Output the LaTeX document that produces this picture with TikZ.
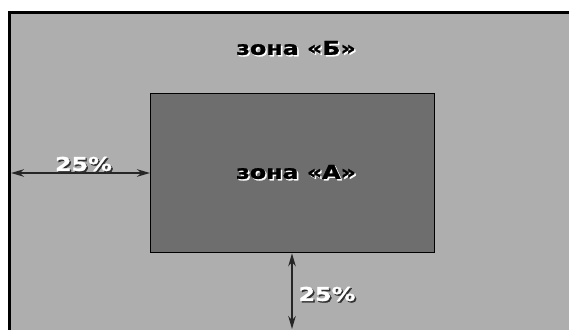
\documentclass[tikz,border=0pt]{standalone}
\usepackage{fontspec}
\usepackage{graphicx}
\setmainfont{DejaVu Sans}
\newfontfamily\heavyfont{DejaVu Sans Bold}[FakeBold=1.2]
\usetikzlibrary{arrows.meta}
\definecolor{zoneB}{HTML}{AEAEAE}
\definecolor{zoneA}{HTML}{6E6E6E}
\definecolor{shadowdark}{HTML}{303030}
\newcommand{\widetxt}[1]{\scalebox{1.25}[1]{#1}}
\tikzset{
  px/.style={x=1pt,y=-1pt},
  zonebox/.style={draw=black, line width=#1},
  lbl/.style={font=\heavyfont\fontsize{19}{19}\selectfont, inner sep=0pt},
  dimarrow/.style={line width=1.8pt, draw=black!85, {Stealth[length=13pt,width=7.5pt]}-{Stealth[length=13pt,width=7.5pt]}},
}
\begin{document}
\begin{tikzpicture}[px]
\useasboundingbox (0,0) rectangle (569,329);
\fill[white] (0,0) rectangle (569,329);
% outer zone
\filldraw[fill=zoneB, zonebox=3pt] (9.5,12.5) rectangle (580,340);
% inner zone
\filldraw[fill=zoneA, zonebox=1.5pt] (150.5,93.5) rectangle (434.5,252.5);
\node[inner sep=0pt, minimum size=0pt] (innerL) at (150,173) {};
\coordinate (outerL) at (11,173);
\coordinate (innerB) at (292,253.3);
\coordinate (bottom) at (292,329);
% labels
\node[lbl, text=white] (bshadow) at (297.5,49.5) {\widetxt{зона «Б»}};
\node[lbl, text=black] (blabel) at (296,48) {\widetxt{зона «Б»}};
\node[lbl, text=white] (ashadow) at (297.5,173.5) {\widetxt{зона «А»}};
\node[lbl, text=black] (alabel) at (296,172) {\widetxt{зона «А»}};
% dimension arrows
\draw[dimarrow] (outerL) -- (innerL.center);
\draw[dimarrow] (innerB) -- (bottom);
\node[lbl, text=shadowdark] (hshadow) at (85,165.5) {\widetxt{25\%}};
\node[lbl, text=white] (hlabel) at (83.5,164) {\widetxt{25\%}};
\node[lbl, text=shadowdark] (vshadow) at (328.5,295.5) {\widetxt{25\%}};
\node[lbl, text=white] (vlabel) at (327,294) {\widetxt{25\%}};
\end{tikzpicture}
\end{document}
